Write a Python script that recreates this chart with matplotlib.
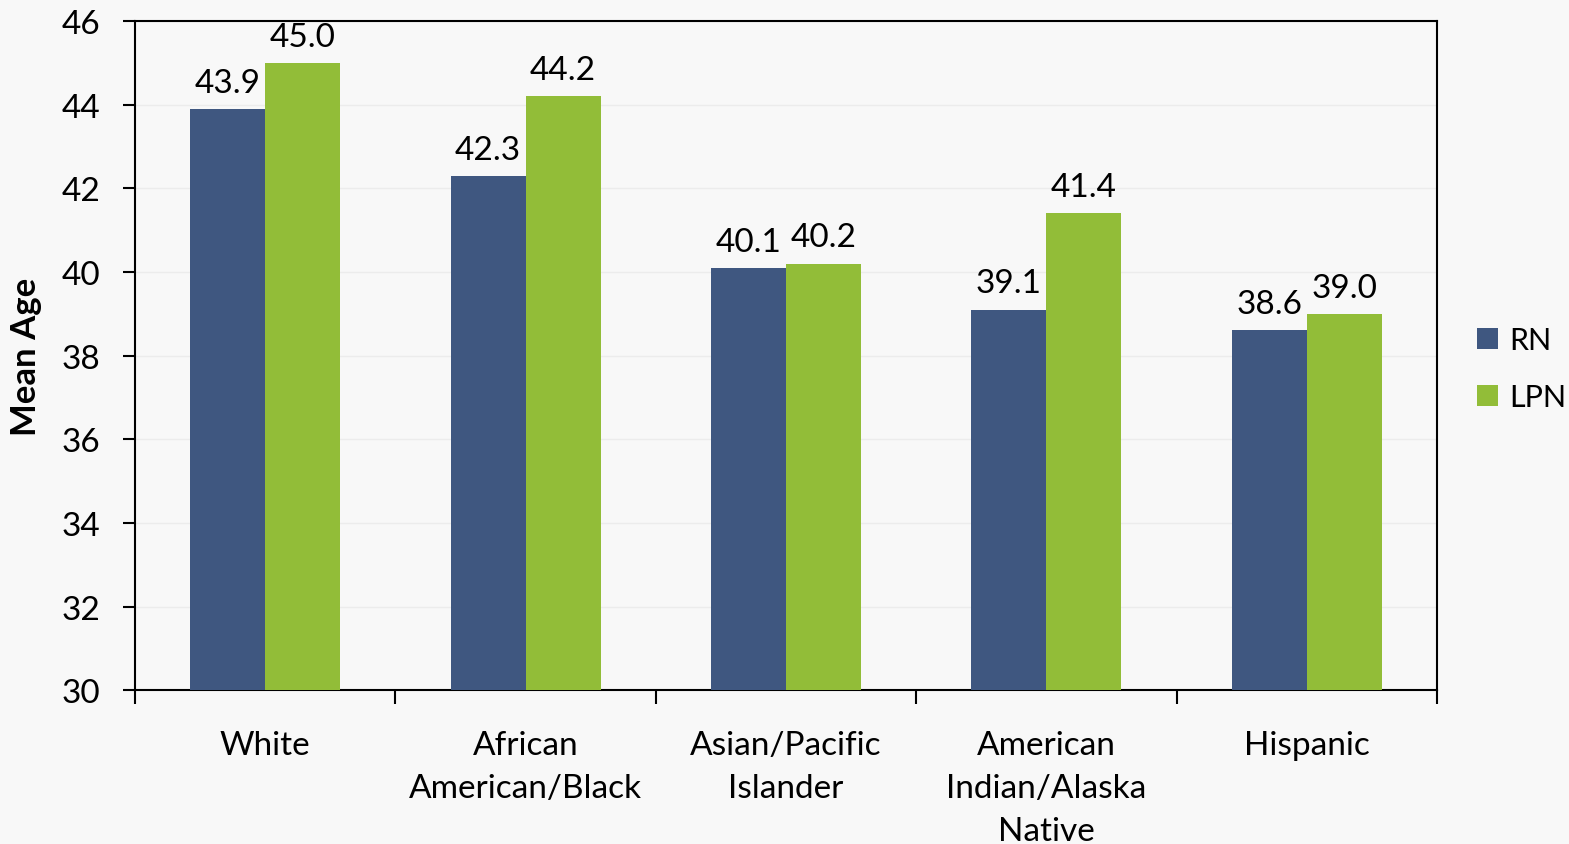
import numpy as np
import matplotlib.pyplot as plt

plt.rcParams['font.family'] = ['Lato', 'DejaVu Sans']

# mean age by race/ethnicity
groups = ['White', 'African\nAmerican/Black', 'Asian/Pacific\nIslander',
          'American\nIndian/Alaska\nNative', 'Hispanic']
rn = [43.9, 42.3, 40.1, 39.1, 38.6]
lpn = [45.0, 44.2, 40.2, 41.4, 39.0]

rn_color = '#3f5780'
lpn_color = '#92bd38'
bg = '#f8f8f8'
fs = 24

fig = plt.figure(figsize=(15.69, 8.45), dpi=100, facecolor=bg)
ax = fig.add_axes([0.086, 0.182, 0.8299, 0.792], facecolor=bg)

x = np.arange(len(groups))
w = 0.288
b1 = ax.bar(x - w / 2, np.array(rn) - 30, w, bottom=30, color=rn_color, zorder=3)
b2 = ax.bar(x + w / 2, np.array(lpn) - 30, w, bottom=30, color=lpn_color, zorder=3)

for xs, vals in [(x - w / 2, rn), (x + w / 2, lpn)]:
    for xi, v in zip(xs, vals):
        ax.annotate(f'{v:.1f}', (xi, v), xytext=(0, 8), textcoords='offset points',
                    ha='center', va='bottom', fontsize=fs)

ax.set_xlim(-0.5, len(groups) - 0.5)
ax.set_ylim(30, 46)
ax.set_yticks(np.arange(30, 47, 2))
ax.tick_params(axis='y', labelsize=fs, length=9, width=1.5, direction='out', pad=16)

# category labels sit between the boundary ticks
ax.set_xticks(np.arange(-0.5, len(groups), 1.0))
ax.set_xticklabels([])
ax.tick_params(axis='x', length=10, width=1.5, direction='out')
for xi, g in zip(x, groups):
    ax.text(xi, 29.05, g, ha='center', va='top', fontsize=fs, linespacing=1.55)

ax.grid(axis='y', color='#ececec', lw=1, zorder=0)
for s in ax.spines.values():
    s.set_linewidth(1.5)
    s.set_color('black')

ax.set_ylabel('Mean Age', fontsize=25, fontweight='bold')
ax.yaxis.set_label_coords(-0.0715, 0.5)

ax.legend([b1, b2], ['RN', 'LPN'], loc='center left', bbox_to_anchor=(1.031, 0.48),
          frameon=False, fontsize=22, handlelength=0.69, handleheight=0.69,
          labelspacing=0.95, handletextpad=0.36, borderaxespad=0, borderpad=0)

fig.savefig('out.png', dpi=100, facecolor=bg)
